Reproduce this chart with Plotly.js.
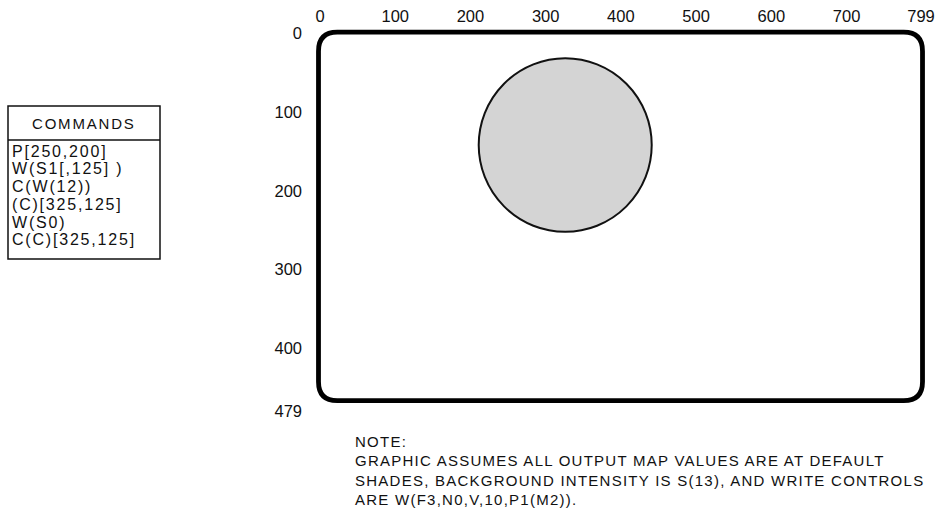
<!DOCTYPE html>
<html>
<head>
<meta charset="utf-8">
<script src="https://cdn.plot.ly/plotly-3.0.1.min.js"></script>
<style>
  html, body { margin: 0; padding: 0; background: #fff; }
  #chart { width: 938px; height: 519px; }
</style>
</head>
<body>
<div id="chart"></div>
<script>
// ---- data ----
const xTickVals = [0, 100, 200, 300, 400, 500, 600, 700, 799];
const yTickVals = [0, 100, 200, 300, 400, 479];
const screenBorderX = [-2, 801];   // drawn screen frame, left/right (screen units)
const screenBorderY = [-1, 466];   // drawn screen frame, top/bottom (screen units)
const circleX = [211, 441];        // shaded circle extent, x
const circleY = [32, 252];         // shaded circle extent, y
const commandsTitle = 'COMMANDS';
const commands = ['P[250,200]', 'W(S1[,125] )', 'C(W(12))', '(C)[325,125]', 'W(S0)', 'C(C)[325,125]'];
const noteLines = [
  'NOTE:',
  'GRAPHIC ASSUMES ALL OUTPUT MAP VALUES ARE AT DEFAULT',
  'SHADES, BACKGROUND INTENSITY IS S(13), AND WRITE CONTROLS',
  'ARE W(F3,N0,V,10,P1(M2)).'
];

// ---- layout geometry ----
const W = 938, H = 519;
const M = { l: 303, r: 6, t: 26, b: 99 };
const plotW = W - M.l - M.r, plotH = H - M.t - M.b;
const px2paperX = px => (px - M.l) / plotW;
const py2paperY = py => (H - M.b - py) / plotH;

const FONT = 'Liberation Sans, Arial, Helvetica, sans-serif';
const tickFont = { family: FONT, size: 16.5, color: '#111' };
const spaced = (t, ls) => `<span style="letter-spacing:${ls}px">${t}</span>`;

// rounded frame path in data coordinates
function roundedRect(x0, x1, y0, y1, rx, ry) {
  return `M ${x0 + rx},${y0} L ${x1 - rx},${y0} Q ${x1},${y0} ${x1},${y0 + ry} ` +
         `L ${x1},${y1 - ry} Q ${x1},${y1} ${x1 - rx},${y1} ` +
         `L ${x0 + rx},${y1} Q ${x0},${y1} ${x0},${y1 - ry} ` +
         `L ${x0},${y0 + ry} Q ${x0},${y0} ${x0 + rx},${y0} Z`;
}

const shapes = [
  {
    type: 'path', xref: 'x', yref: 'y',
    path: roundedRect(screenBorderX[0], screenBorderX[1], screenBorderY[0], screenBorderY[1], 25, 24),
    line: { color: '#000', width: 4.8 }, fillcolor: 'rgba(0,0,0,0)'
  },
  {
    type: 'circle', xref: 'x', yref: 'y',
    x0: circleX[0], x1: circleX[1], y0: circleY[0], y1: circleY[1],
    line: { color: '#111', width: 2 }, fillcolor: '#d4d4d4'
  },
  // commands box
  {
    type: 'rect', xref: 'paper', yref: 'paper',
    x0: px2paperX(8), x1: px2paperX(160), y0: py2paperY(259), y1: py2paperY(106),
    line: { color: '#111', width: 1.5 }, fillcolor: 'rgba(0,0,0,0)'
  },
  {
    type: 'line', xref: 'paper', yref: 'paper',
    x0: px2paperX(8), x1: px2paperX(160), y0: py2paperY(140), y1: py2paperY(140),
    line: { color: '#111', width: 1.5 }
  }
];

const annotations = [];
annotations.push({
  text: spaced(commandsTitle, 1.8), xref: 'paper', yref: 'paper',
  x: px2paperX(84), y: py2paperY(124), xanchor: 'center', yanchor: 'middle',
  showarrow: false, font: { family: FONT, size: 15, color: '#111' }
});
commands.forEach((c, i) => {
  annotations.push({
    text: spaced(c, 1.8), xref: 'paper', yref: 'paper',
    x: px2paperX(10), y: py2paperY(151 + i * 17.8), xanchor: 'left', yanchor: 'middle',
    showarrow: false, font: { family: FONT, size: 16, color: '#111' }
  });
});
noteLines.forEach((t, i) => {
  annotations.push({
    text: spaced(t, 1.25), xref: 'paper', yref: 'paper',
    x: px2paperX(353), y: py2paperY(441 + i * 19.6), xanchor: 'left', yanchor: 'middle',
    showarrow: false, font: { family: FONT, size: 15, color: '#111' }
  });
});

// x: 0 -> px 320, 799 -> px ~921 ; y: 0 -> px 33, 479 -> px 411
const xScale = 0.7522, yScale = 0.789;
const xr0 = -(320 - M.l) / xScale, xr1 = xr0 + plotW / xScale;
const yr0 = -(33 - M.t) / yScale, yr1 = yr0 + plotH / yScale;

const traces = [{
  type: 'scatter', mode: 'markers',
  x: xTickVals, y: xTickVals.map(() => 0),
  marker: { opacity: 0 }, hoverinfo: 'skip', showlegend: false
}];

const layout = {
  width: W, height: H,
  margin: M,
  paper_bgcolor: '#fff', plot_bgcolor: '#fff',
  showlegend: false,
  xaxis: {
    range: [xr0, xr1], side: 'top',
    tickvals: xTickVals, ticktext: xTickVals.map(String),
    showgrid: false, zeroline: false, showline: false, ticks: '',
    tickfont: tickFont, fixedrange: true
  },
  yaxis: {
    range: [yr1, yr0],
    tickvals: yTickVals, ticktext: yTickVals.map(String),
    showgrid: false, zeroline: false, showline: false, ticks: '',
    tickfont: tickFont, fixedrange: true
  },
  shapes: shapes,
  annotations: annotations
};

Plotly.newPlot('chart', traces, layout, { displayModeBar: false, staticPlot: true });
</script>
</body>
</html>
